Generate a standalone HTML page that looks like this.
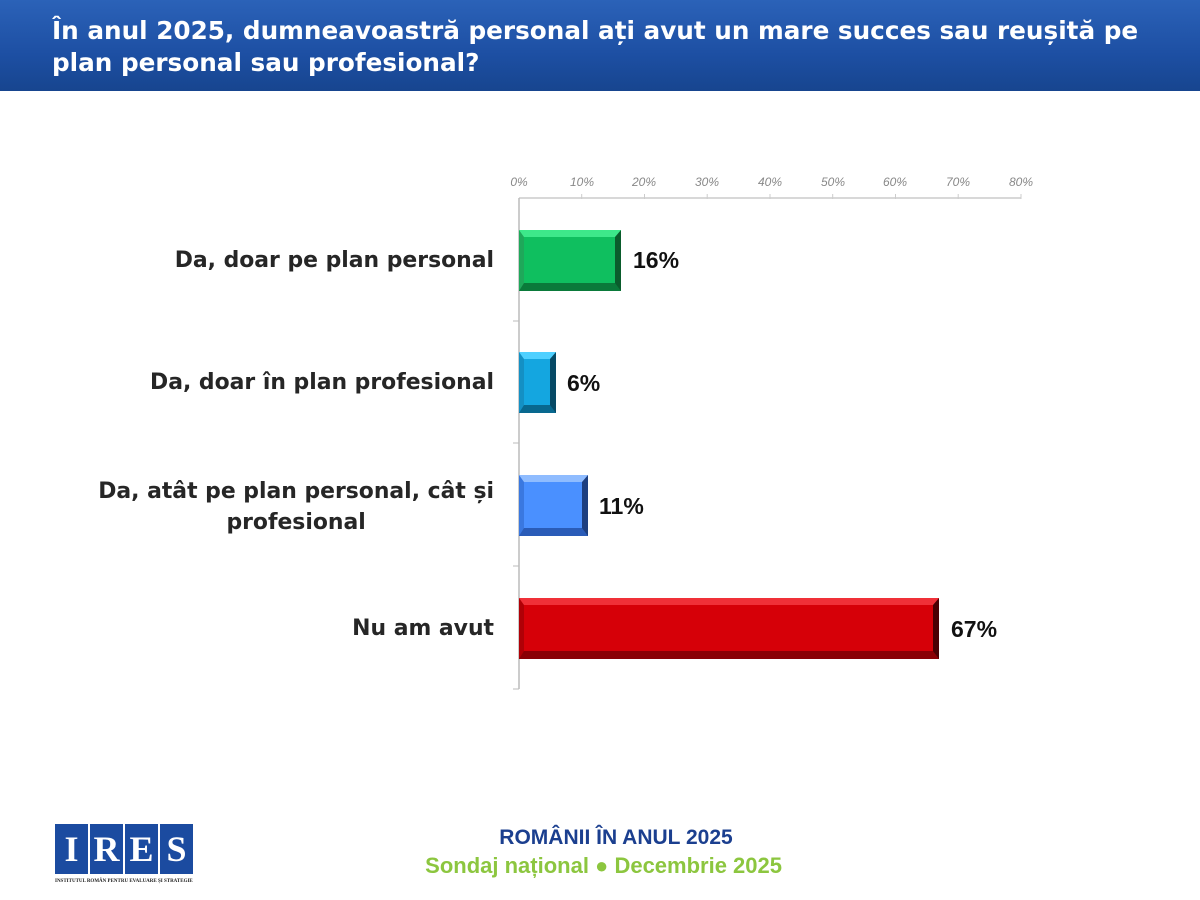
<!DOCTYPE html>
<html><head><meta charset="utf-8"><style>
body{margin:0;width:1200px;height:900px;background:#fff;position:relative;overflow:hidden;font-family:"Liberation Sans",sans-serif}
.hdr{position:absolute;left:0;top:0;width:1200px;height:91px;background:linear-gradient(180deg,#2b62b8,#1d4fa3 60%,#17458f)}
.title{position:absolute;left:52px;top:15px;color:#fff;font-weight:bold;font-size:24.7px;line-height:32px;font-family:"DejaVu Sans",sans-serif;white-space:nowrap}
.lbl{position:absolute;right:706px;text-align:center;font-weight:bold;font-size:21.9px;color:#262626;line-height:31px;font-family:"DejaVu Sans",sans-serif;white-space:nowrap}
.val{position:absolute;font-weight:bold;font-size:23px;color:#111}
.tick{position:absolute;top:175px;font-size:12px;font-style:italic;color:#888;width:40px;text-align:center}
.bar{position:absolute;box-sizing:border-box;border-style:solid;border-width:7px 6px 8px 5px}
</style></head><body>
<div class="hdr"></div>
<div class="title">În anul 2025, dumneavoastră personal ați avut un mare succes sau reușită pe<br>plan personal sau profesional?</div>
<svg width="1200" height="900" style="position:absolute;left:0;top:0">
<line x1="519" y1="198" x2="1021" y2="198" stroke="#ccc" stroke-width="1.5"/>
<line x1="519" y1="198" x2="519" y2="689" stroke="#bbb" stroke-width="1.5"/>
<g stroke="#ccc"><line x1="581.7" y1="194" x2="581.7" y2="199"/><line x1="644.5" y1="194" x2="644.5" y2="199"/><line x1="707.2" y1="194" x2="707.2" y2="199"/><line x1="770" y1="194" x2="770" y2="199"/><line x1="832.7" y1="194" x2="832.7" y2="199"/><line x1="895.5" y1="194" x2="895.5" y2="199"/><line x1="958.2" y1="194" x2="958.2" y2="199"/><line x1="1021" y1="194" x2="1021" y2="199"/></g>
<g stroke="#bbb"><line x1="513" y1="321" x2="519" y2="321"/><line x1="513" y1="443" x2="519" y2="443"/><line x1="513" y1="566" x2="519" y2="566"/><line x1="513" y1="689" x2="519" y2="689"/></g>
</svg>
<div class="tick" style="left:499px">0%</div><div class="tick" style="left:562px">10%</div><div class="tick" style="left:624px">20%</div><div class="tick" style="left:687px">30%</div><div class="tick" style="left:750px">40%</div><div class="tick" style="left:813px">50%</div><div class="tick" style="left:875px">60%</div><div class="tick" style="left:938px">70%</div><div class="tick" style="left:1001px">80%</div>

<div class="bar" style="left:519px;top:230px;width:102px;height:61px;background:#0fbf5f;border-color:#3de88a #0a5c2c #0a7a3a #1fa85a"></div>
<div class="bar" style="left:519px;top:352px;width:37px;height:61px;background:#14a6e0;border-color:#4fd0ff #064a66 #08688f #1490c4"></div>
<div class="bar" style="left:519px;top:475px;width:69px;height:61px;background:#4a90ff;border-color:#8fbcff #1d3f80 #2a5cb8 #3a78e0"></div>
<div class="bar" style="left:519px;top:598px;width:420px;height:61px;background:#d60008;border-color:#f03038 #4a0003 #8a0005 #b00006"></div>

<div class="lbl" style="top:245px">Da, doar pe plan personal</div>
<div class="lbl" style="top:367px">Da, doar în plan profesional</div>
<div class="lbl" style="top:476px">Da, atât pe plan personal, cât și<br>profesional</div>
<div class="lbl" style="top:613px">Nu am avut</div>
<div class="val" style="left:633px;top:247px">16%</div>
<div class="val" style="left:567px;top:370px">6%</div>
<div class="val" style="left:599px;top:493px">11%</div>
<div class="val" style="left:951px;top:616px">67%</div>

<div style="position:absolute;left:55px;top:824px;display:flex;gap:2px">
<div style="width:33px;height:50px;background:#1b4ba0;color:#fff;font:bold 36px 'Liberation Serif',serif;text-align:center;line-height:50px">I</div>
<div style="width:33px;height:50px;background:#1b4ba0;color:#fff;font:bold 36px 'Liberation Serif',serif;text-align:center;line-height:50px">R</div>
<div style="width:33px;height:50px;background:#1b4ba0;color:#fff;font:bold 36px 'Liberation Serif',serif;text-align:center;line-height:50px">E</div>
<div style="width:33px;height:50px;background:#1b4ba0;color:#fff;font:bold 36px 'Liberation Serif',serif;text-align:center;line-height:50px">S</div>
</div>
<div style="position:absolute;left:55px;top:879px;font:bold 5px 'Liberation Serif',serif;color:#222;width:142px;white-space:nowrap">INSTITUTUL ROMÂN PENTRU EVALUARE ȘI STRATEGIE</div>
<div style="position:absolute;left:416px;width:400px;top:826px;text-align:center;color:#1b3f8f;font-weight:bold;font-size:21px">ROMÂNII ÎN ANUL 2025</div>
<div style="position:absolute;left:380px;width:402px;top:853px;text-align:right;color:#8cc63f;font-weight:bold;font-size:22px">Sondaj național ● Decembrie 2025</div>
</body></html>
